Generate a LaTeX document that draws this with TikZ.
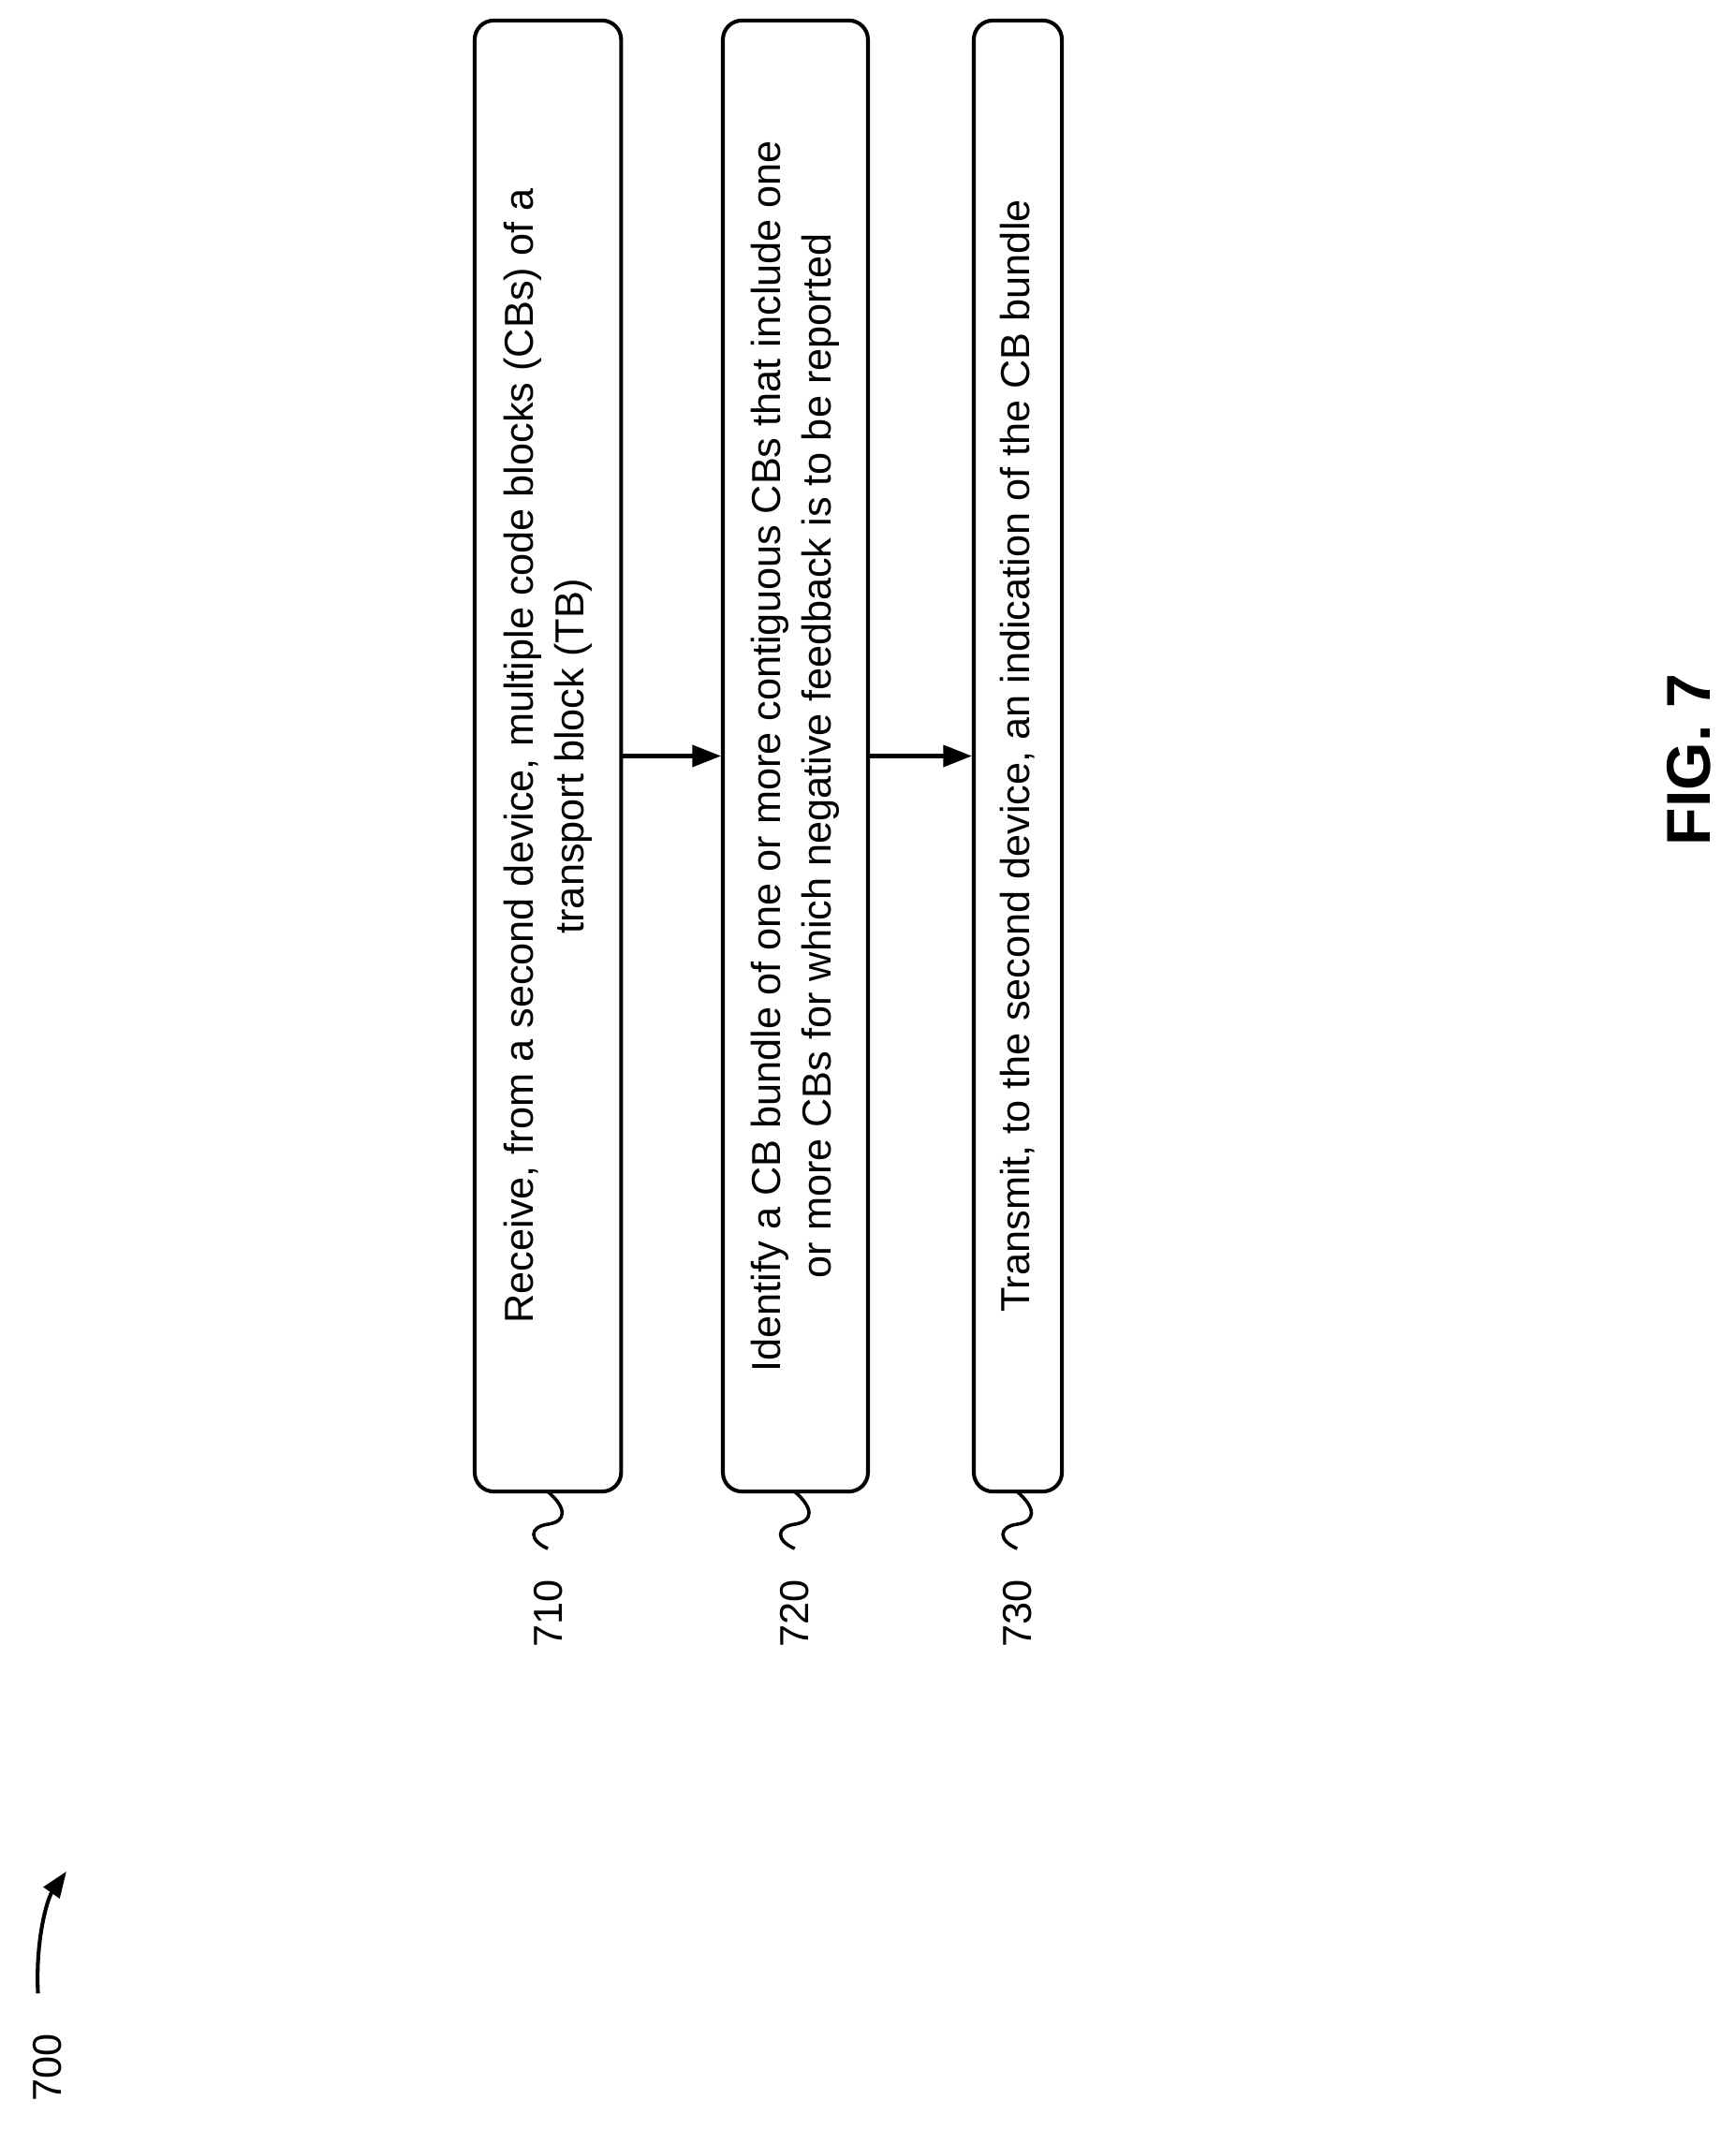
\documentclass[tikz,border=0pt]{standalone}
\usepackage{fontspec}
\setmainfont{Liberation Sans}
\usetikzlibrary{arrows.meta}
\begin{document}
\begin{tikzpicture}[x=0.02cm,y=-0.02cm,
  stepbox/.style={draw,line width=1.6pt,rounded corners=8pt,rotate=90,minimum width=21.7cm,inner sep=0pt,align=center,font=\fontsize{17}{21}\selectfont},
  lbl/.style={rotate=90,font=\fontsize{17}{20}\selectfont},
  conn/.style={line width=1.6pt,-{Triangle[length=12pt,width=9pt]}},
  sq/.style={line width=1.4pt}]
\useasboundingbox (0,0) rectangle (1280,1570);
\node[stepbox,minimum height=2.16cm] (b1) at (404,557.5) {Receive, from a second device, multiple code blocks (CBs) of a\\transport block (TB)};
\node[stepbox,minimum height=2.14cm] (b2) at (586.5,557.5) {Identify a CB bundle of one or more contiguous CBs that include one\\or more CBs for which negative feedback is to be reported};
\node[stepbox,minimum height=1.3cm] (b3) at (750.5,557.5) {Transmit, to the second device, an indication of the CB bundle};
\draw[conn] (b1.south) -- (b2.north);
\draw[conn] (b2.south) -- (b3.north);
\foreach \n/\x in {710/404,720/586,730/750}{
  \coordinate (s\n) at (\x,1100);
  \draw[sq] (s\n) .. controls (\x+14,1112) and (\x+14,1122) .. (\x,1124) .. controls (\x-14,1126) and (\x-14,1136) .. (\x,1142);
  \node[lbl] (l\n) at (\x,1190) {\n};
}
\node[lbl] (l700) at (35,1525) {700};
\coordinate (a0) at (28,1470);
\coordinate (a1) at (49,1380);
\draw[line width=1.6pt,-{Triangle[length=11pt,width=8pt]}] (a0) .. controls (26,1430) and (35,1400) .. (a1);
\node[rotate=90,font=\bfseries\fontsize{26}{30}\selectfont] (fig) at (1245,560) {FIG. 7};
\end{tikzpicture}
\end{document}
